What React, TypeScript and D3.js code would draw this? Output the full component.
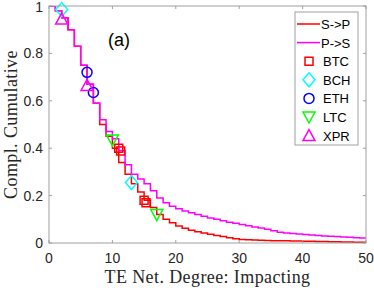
import React, { useEffect, useRef } from 'react'
import * as d3 from 'd3'

// complementary cumulative, value on [k, k+1) for k = 0..50
const degrees = d3.range(0, 51)
const sToP = [
  1.0, 0.98, 0.95, 0.9, 0.83, 0.75, 0.67, 0.59, 0.5, 0.45, 0.4, 0.34, 0.29,
  0.25, 0.215, 0.18, 0.15, 0.12, 0.1, 0.085, 0.072, 0.062, 0.054, 0.047,
  0.042, 0.037, 0.032, 0.027, 0.022, 0.018, 0.015, 0.014, 0.013, 0.012,
  0.011, 0.01, 0.009, 0.009, 0.008, 0.008, 0.007, 0.007, 0.006, 0.006,
  0.005, 0.005, 0.004, 0.004, 0.003, 0.003, 0.003,
]
const pToS = [
  1.0, 0.98, 0.95, 0.9, 0.83, 0.75, 0.67, 0.59, 0.52, 0.47, 0.44, 0.39, 0.33,
  0.29, 0.27, 0.25, 0.22, 0.19, 0.17, 0.155, 0.145, 0.135, 0.128, 0.12,
  0.113, 0.106, 0.1, 0.094, 0.088, 0.083, 0.078, 0.073, 0.068, 0.063, 0.058,
  0.052, 0.045, 0.042, 0.04, 0.038, 0.036, 0.034, 0.032, 0.03, 0.028, 0.027,
  0.025, 0.024, 0.022, 0.021, 0.02,
]

const btc = [[11, 0.4], [11.3, 0.388], [15, 0.18], [15.3, 0.17]]
const bch = [[2, 0.985], [13, 0.255]]
const eth = [[6, 0.72], [7, 0.635]]
const ltc = [[10, 0.435], [17, 0.12]]
const xpr = [[2, 0.945], [6, 0.665]]

const xTicks = [0, 10, 20, 30, 40, 50]
const yTicks = [0, 0.2, 0.4, 0.6, 0.8, 1]

const markerPath = (kind: string) => {
  if (kind === 'square') return 'M-4,-4H4V4H-4Z'
  if (kind === 'diamond') return 'M0,-7L6,0L0,7L-6,0Z'
  if (kind === 'circle') return 'M5,0A5,5 0 1,1 -5,0A5,5 0 1,1 5,0Z'
  if (kind === 'tdown') return 'M0,6L6,-5L-6,-5Z'
  return 'M0,-6L6,5L-6,5Z'
}

const App = () => {
  const svgRef = useRef(null)

  useEffect(() => {
    const svg = d3.select(svgRef.current)
    svg.selectAll('*').remove()

    const x = d3.scaleLinear().domain([0, 50]).range([49, 366])
    const y = d3.scaleLinear().domain([0, 1]).range([243, 6])
    const axisColor = '#a0a0a0'
    const textColor = '#262626'

    svg
      .append('defs')
      .append('clipPath')
      .attr('id', 'plot')
      .append('rect')
      .attr('x', 49)
      .attr('y', 6)
      .attr('width', 317)
      .attr('height', 237)

    // step lines
    const line = d3
      .line<number>()
      .x((d) => x(d))
      .curve(d3.curveStepAfter)

    svg
      .append('path')
      .attr('clip-path', 'url(#plot)')
      .attr('d', line.y((d, i) => y(sToP[i]))(degrees))
      .attr('fill', 'none')
      .attr('stroke', '#ff0000')
      .attr('stroke-width', 1.5)

    svg
      .append('path')
      .attr('clip-path', 'url(#plot)')
      .attr('d', line.y((d, i) => y(pToS[i]))(degrees))
      .attr('fill', 'none')
      .attr('stroke', '#ff00ff')
      .attr('stroke-width', 1.5)

    const series = [
      { name: 'BTC', data: btc, kind: 'square', color: '#ff0000' },
      { name: 'BCH', data: bch, kind: 'diamond', color: '#00ffff' },
      { name: 'ETH', data: eth, kind: 'circle', color: '#0000ff' },
      { name: 'LTC', data: ltc, kind: 'tdown', color: '#00ff00' },
      { name: 'XPR', data: xpr, kind: 'tup', color: '#ff00ff' },
    ]

    series.forEach((s) => {
      svg
        .append('g')
        .selectAll('path')
        .data(s.data)
        .join('path')
        .attr('transform', (d) => `translate(${x(d[0])},${y(d[1])})`)
        .attr('d', markerPath(s.kind))
        .attr('fill', 'none')
        .attr('stroke', s.color)
        .attr('stroke-width', 1.5)
    })

    // box + ticks
    svg
      .append('rect')
      .attr('x', 49)
      .attr('y', 6)
      .attr('width', 317)
      .attr('height', 237)
      .attr('fill', 'none')
      .attr('stroke', axisColor)
      .attr('stroke-width', 1)

    const ticks = svg.append('g').attr('stroke', axisColor)
    xTicks.forEach((t) => {
      ticks.append('line').attr('x1', x(t)).attr('x2', x(t)).attr('y1', 243).attr('y2', 240)
      ticks.append('line').attr('x1', x(t)).attr('x2', x(t)).attr('y1', 6).attr('y2', 9)
    })
    yTicks.forEach((t) => {
      ticks.append('line').attr('x1', 49).attr('x2', 52).attr('y1', y(t)).attr('y2', y(t))
      ticks.append('line').attr('x1', 366).attr('x2', 363).attr('y1', y(t)).attr('y2', y(t))
    })

    svg
      .append('g')
      .selectAll('text')
      .data(xTicks)
      .join('text')
      .attr('x', (d) => x(d))
      .attr('y', 263)
      .attr('text-anchor', 'middle')
      .attr('fill', textColor)
      .style('font-family', 'Liberation Sans, Arial, sans-serif')
      .style('font-size', '14px')
      .text((d) => d)

    svg
      .append('g')
      .selectAll('text')
      .data(yTicks)
      .join('text')
      .attr('x', 43)
      .attr('y', (d) => Math.max(y(d) + 5, 12))
      .attr('text-anchor', 'end')
      .attr('fill', textColor)
      .style('font-family', 'Liberation Sans, Arial, sans-serif')
      .style('font-size', '14px')
      .text((d) => d)

    svg
      .append('text')
      .attr('x', 207.5)
      .attr('y', 283)
      .attr('text-anchor', 'middle')
      .attr('fill', textColor)
      .style('font-family', 'Liberation Serif, serif')
      .style('font-size', '18px')
      .style('letter-spacing', '0.4px')
      .text('TE Net. Degree: Impacting')

    svg
      .append('text')
      .attr('transform', 'translate(17,124.5) rotate(-90)')
      .attr('text-anchor', 'middle')
      .attr('fill', textColor)
      .style('font-family', 'Liberation Serif, serif')
      .style('font-size', '18px')
      .style('letter-spacing', '0.4px')
      .text('Compl. Cumulative')

    svg
      .append('text')
      .attr('x', 108)
      .attr('y', 46)
      .attr('fill', '#000')
      .style('font-family', 'Liberation Sans, Arial, sans-serif')
      .style('font-size', '18px')
      .text('(a)')

    // legend
    const legend = svg.append('g').attr('id', 'legend')
    legend
      .append('rect')
      .attr('x', 295)
      .attr('y', 12)
      .attr('width', 63)
      .attr('height', 133)
      .attr('fill', '#fff')
      .attr('stroke', axisColor)

    const entries = [
      { name: 'S->P', color: '#ff0000', kind: 'line' },
      { name: 'P->S', color: '#ff00ff', kind: 'line' },
      ...series.map((s) => ({ name: s.name, color: s.color, kind: s.kind })),
    ]
    entries.forEach((e, i) => {
      const cy = 24 + i * 18.6
      if (e.kind === 'line') {
        legend
          .append('line')
          .attr('x1', 297)
          .attr('x2', 320)
          .attr('y1', cy)
          .attr('y2', cy)
          .attr('stroke', e.color)
          .attr('stroke-width', 1.5)
      } else {
        legend
          .append('path')
          .attr('transform', `translate(309,${cy})`)
          .attr('d', markerPath(e.kind))
          .attr('fill', 'none')
          .attr('stroke', e.color)
          .attr('stroke-width', 1.5)
      }
      legend
        .append('text')
        .attr('x', e.kind === 'line' ? 321 : 323)
        .attr('y', cy + 5)
        .attr('fill', '#000')
        .style('font-family', 'Liberation Sans, Arial, sans-serif')
        .style('font-size', '13px')
        .text(e.name)
    })
  }, [])

  return (
    <svg
      ref={svgRef}
      width={374}
      height={288}
      style={{ position: 'absolute', left: 0, top: 0, background: '#fff' }}
    />
  )
}

export default App
